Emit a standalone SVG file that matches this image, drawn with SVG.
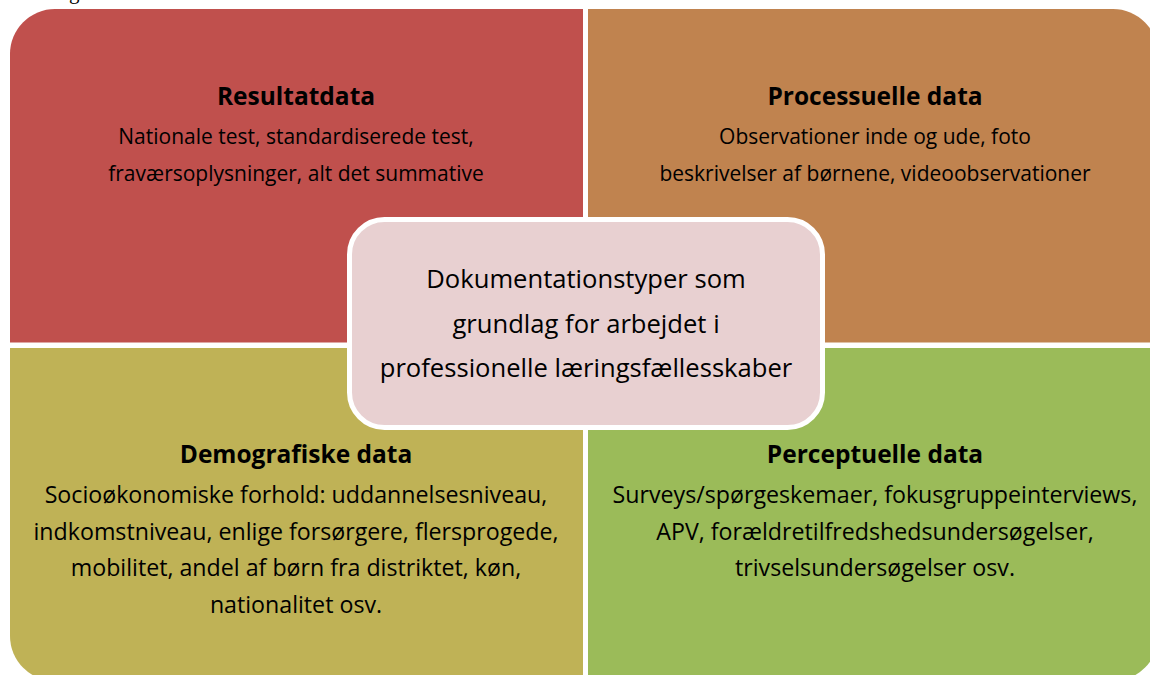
<svg xmlns="http://www.w3.org/2000/svg" width="1150" height="675" viewBox="0 0 1150 675">
<style>
  .h { font-family: "Open Sans", "Liberation Sans", sans-serif; font-weight: bold; font-size: 24.5px; fill: #000; text-anchor: middle; }
  .bt { font-family: "Open Sans", "Liberation Sans", sans-serif; font-size: 21px; fill: #000; text-anchor: middle; }
  .bb { font-family: "Open Sans", "Liberation Sans", sans-serif; font-size: 23.2px; fill: #000; text-anchor: middle; }
  .c { font-family: "Open Sans", "Liberation Sans", sans-serif; font-size: 25.6px; fill: #000; text-anchor: middle; }
</style>
<rect width="1150" height="675" fill="#ffffff"/>
<text x="69" y="-1" font-family="Liberation Serif, serif" font-size="21" fill="#000">g</text>
<g id="resultatdata">
  <path d="M10,342.5 V54 A45,45 0 0 1 55,9 H583 V342.5 Z" fill="#C0504D"/>
  <text class="h" x="296" y="105">Resultatdata</text>
  <text class="bt" x="296" y="144">Nationale test, standardiserede test,</text>
  <text class="bt" x="296" y="180.5">fraværsoplysninger, alt det summative</text>
</g>
<g id="processuelle">
  <path d="M588,9 H1113 A45,45 0 0 1 1158,54 V342.5 H588 Z" fill="#C0834F"/>
  <text class="h" x="875" y="105">Processuelle data</text>
  <text class="bt" x="875" y="144">Observationer inde og ude, foto</text>
  <text class="bt" x="875" y="180.5">beskrivelser af børnene, videoobservationer</text>
</g>
<g id="demografiske">
  <path d="M10,348 H583 V681 H55 A45,45 0 0 1 10,636 Z" fill="#BFB256"/>
  <text class="h" x="296" y="463">Demografiske data</text>
  <text class="bb" x="296" y="503">Socioøkonomiske forhold: uddannelsesniveau,</text>
  <text class="bb" x="296" y="539.5">indkomstniveau, enlige forsørgere, flersprogede,</text>
  <text class="bb" x="296" y="576">mobilitet, andel af børn fra distriktet, køn,</text>
  <text class="bb" x="296" y="612.5">nationalitet osv.</text>
</g>
<g id="perceptuelle">
  <path d="M588,348 H1158 V636 A45,45 0 0 1 1113,681 H588 Z" fill="#9BBB59"/>
  <text class="h" x="875" y="463">Perceptuelle data</text>
  <text class="bb" x="875" y="503">Surveys/spørgeskemaer, fokusgruppeinterviews,</text>
  <text class="bb" x="875" y="539.5">APV, forældretilfredshedsundersøgelser,</text>
  <text class="bb" x="875" y="576">trivselsundersøgelser osv.</text>
</g>
<g id="center">
  <rect x="349.5" y="219.5" width="473" height="208" rx="35" fill="#E8D0D1" stroke="#ffffff" stroke-width="5"/>
  <text class="c" x="586" y="288">Dokumentationstyper som</text>
  <text class="c" x="586" y="332.5">grundlag for arbejdet i</text>
  <text class="c" x="586" y="377">professionelle læringsfællesskaber</text>
</g>
<g id="connectors"/>
</svg>
